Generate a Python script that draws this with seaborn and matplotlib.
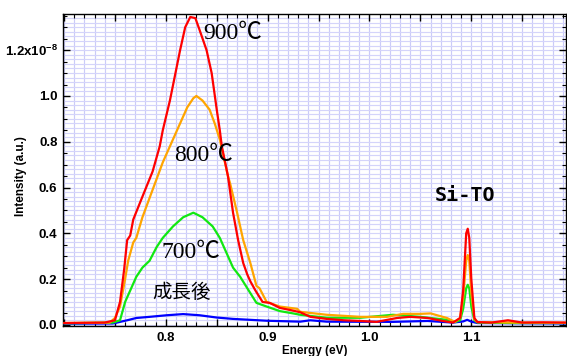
import numpy as np
import pandas as pd
import matplotlib
matplotlib.use("Agg")
import matplotlib.pyplot as plt
from matplotlib.ticker import MultipleLocator, FixedLocator, FuncFormatter
import seaborn as sns

# ---- data (intensity in units of 1e-8 a.u.) ----
e_red = [0.700, 0.720, 0.740, 0.745, 0.750, 0.755, 0.759, 0.762, 0.765, 0.768, 0.777, 0.787,
         0.794, 0.797, 0.804, 0.814, 0.819, 0.824, 0.829, 0.833, 0.840, 0.845, 0.850, 0.853,
         0.855, 0.861, 0.866, 0.871, 0.876, 0.880, 0.883, 0.888, 0.895, 0.902, 0.912, 0.922,
         0.932, 0.942, 0.958, 0.975, 0.991, 1.007, 1.027, 1.040, 1.057, 1.072, 1.082, 1.089,
         1.092, 1.095, 1.0965, 1.098, 1.100, 1.103, 1.106, 1.120, 1.136, 1.150, 1.170, 1.193]
i_red = [0.008, 0.009, 0.010, 0.015, 0.020, 0.100, 0.240, 0.370, 0.390, 0.460, 0.560, 0.670,
         0.780, 0.850, 0.980, 1.200, 1.300, 1.345, 1.340, 1.290, 1.200, 1.100, 0.940, 0.850,
         0.780, 0.650, 0.490, 0.370, 0.270, 0.220, 0.190, 0.150, 0.100, 0.096, 0.074, 0.065,
         0.055, 0.035, 0.026, 0.020, 0.017, 0.013, 0.030, 0.035, 0.030, 0.017, 0.010, 0.030,
         0.150, 0.400, 0.420, 0.380, 0.200, 0.030, 0.012, 0.010, 0.020, 0.010, 0.011, 0.010]

e_orange = [0.700, 0.720, 0.745, 0.750, 0.755, 0.760, 0.763, 0.768, 0.771, 0.777, 0.787, 0.797,
            0.807, 0.814, 0.821, 0.827, 0.830, 0.836, 0.843, 0.848, 0.853, 0.858, 0.861, 0.863,
            0.870, 0.876, 0.883, 0.889, 0.892, 0.899, 0.912, 0.929, 0.932, 0.958, 0.991, 1.017,
            1.033, 1.050, 1.060, 1.076, 1.084, 1.089, 1.092, 1.095, 1.0965, 1.098, 1.100, 1.103,
            1.106, 1.140, 1.193]
i_orange = [0.008, 0.009, 0.010, 0.030, 0.080, 0.200, 0.280, 0.360, 0.380, 0.470, 0.590, 0.710,
            0.810, 0.880, 0.950, 0.990, 1.000, 0.980, 0.940, 0.880, 0.810, 0.710, 0.650, 0.620,
            0.490, 0.370, 0.270, 0.170, 0.160, 0.100, 0.080, 0.070, 0.057, 0.044, 0.035, 0.035,
            0.048, 0.048, 0.050, 0.030, 0.013, 0.030, 0.120, 0.280, 0.305, 0.280, 0.140, 0.025,
            0.012, 0.010, 0.009]

e_green = [0.700, 0.720, 0.748, 0.755, 0.760, 0.765, 0.771, 0.777, 0.784, 0.791, 0.797, 0.807,
           0.817, 0.827, 0.836, 0.846, 0.853, 0.860, 0.866, 0.873, 0.880, 0.889, 0.899, 0.912,
           0.925, 0.932, 0.958, 0.991, 1.023, 1.050, 1.076, 1.084, 1.089, 1.092, 1.095, 1.0965,
           1.098, 1.100, 1.103, 1.106, 1.140, 1.193]
i_green = [0.007, 0.008, 0.010, 0.020, 0.100, 0.150, 0.210, 0.250, 0.280, 0.340, 0.380, 0.430,
           0.470, 0.490, 0.470, 0.430, 0.380, 0.310, 0.250, 0.210, 0.160, 0.096, 0.080, 0.060,
           0.050, 0.044, 0.031, 0.031, 0.044, 0.035, 0.022, 0.012, 0.020, 0.070, 0.160, 0.175,
           0.160, 0.080, 0.020, 0.010, 0.008, 0.008]

e_blue = [0.700, 0.748, 0.752, 0.762, 0.771, 0.784, 0.801, 0.817, 0.833, 0.850, 0.866, 0.899,
          0.932, 0.942, 0.958, 1.023, 1.057, 1.082, 1.092, 1.096, 1.100, 1.106, 1.193]
i_blue = [0.005, 0.006, 0.010, 0.020, 0.030, 0.035, 0.042, 0.047, 0.042, 0.032, 0.026, 0.018,
          0.014, 0.020, 0.014, 0.013, 0.017, 0.010, 0.015, 0.022, 0.014, 0.008, 0.006]

series_names = ["成長後", "700℃", "800℃", "900℃"]
series_colors = ["#0000ff", "#11e811", "#ffa500", "#ff0000"]
y_ticks = [0.0, 0.2, 0.4, 0.6, 0.8, 1.0, 1.2]
x_ticks = [0.8, 0.9, 1.0, 1.1]

frames = []
for name, e, i in zip(series_names, [e_blue, e_green, e_orange, e_red],
                      [i_blue, i_green, i_orange, i_red]):
    frames.append(pd.DataFrame({"Energy": e, "Intensity": i, "series": name}))
df = pd.concat(frames, ignore_index=True)

sns.set_style("ticks")
plt.rcParams["font.family"] = ["Liberation Sans", "Noto Sans CJK JP", "DejaVu Sans"]
plt.rcParams["text.color"] = "black"
plt.rcParams["axes.labelcolor"] = "black"
plt.rcParams["xtick.color"] = "black"
plt.rcParams["ytick.color"] = "black"
plt.rcParams["xtick.labelcolor"] = "black"
plt.rcParams["ytick.labelcolor"] = "black"
plt.rcParams["mathtext.fontset"] = "custom"
plt.rcParams["mathtext.rm"] = "Liberation Sans:bold"
plt.rcParams["mathtext.bf"] = "Liberation Sans:bold"
plt.rcParams["mathtext.it"] = "Liberation Sans:bold"

fig = plt.figure(figsize=(5.67, 3.56), dpi=100)
ax = fig.add_axes([63 / 567, 30 / 356, 503 / 567, 312 / 356])

# grid
for gx in np.arange(0.70, 1.195, 0.01):
    ax.axvline(gx, color="#cbcbf8", lw=0.85, zorder=0)
for gy in np.arange(0.0, 1.36, 0.02):
    ax.axhline(gy, color="#d4d4fa", lw=0.85, zorder=0)

sns.lineplot(data=df, x="Energy", y="Intensity", hue="series", hue_order=series_names,
             palette=series_colors, sort=False, linewidth=1.6, legend=False, ax=ax, zorder=3)

ax.set_xlim(0.699, 1.193)
ax.set_ylim(-0.005, 1.358)

ax.xaxis.set_major_locator(FixedLocator(list(np.round(np.arange(0.70, 1.20, 0.05), 2))))
ax.xaxis.set_minor_locator(MultipleLocator(0.01))
ax.xaxis.set_major_formatter(FuncFormatter(
    lambda v, p: (f"{v:.1f}" if any(abs(v - t) < 1e-6 for t in x_ticks) else "")))
ax.yaxis.set_major_locator(FixedLocator(y_ticks))
ax.yaxis.set_minor_locator(MultipleLocator(0.05))

def yfmt(v, p):
    if abs(v - 1.2) < 1e-6:
        return r"1.2x10$^{-8}$"
    return f"{v:.1f}"
ax.yaxis.set_major_formatter(FuncFormatter(yfmt))

ax.tick_params(which="both", direction="in", top=True, right=True, color="black",
               labelcolor="black", labelsize=9.5, pad=4)
ax.tick_params(which="major", length=5, width=1)
ax.tick_params(which="minor", length=3, width=0.8)
for lab in ax.get_xticklabels() + ax.get_yticklabels():
    lab.set_fontweight("bold")

for s in ax.spines.values():
    s.set_color("black")
    s.set_linewidth(1.0)

ax.set_xlabel("Energy (eV)", fontsize=8.5, fontweight="bold", labelpad=1, color="black")
ax.set_ylabel("Intensity (a.u.)", fontsize=8.5, fontweight="bold", color="black")
ax.yaxis.set_label_coords(-0.0716, 0.48)

serif = ["Liberation Serif", "Noto Sans CJK JP", "DejaVu Sans"]
ax.text(0.8659, 1.271, "900℃", fontsize=17, family=serif, color="black",
        ha="center", va="center", zorder=5)
ax.text(0.8374, 0.738, "800℃", fontsize=17, family=serif, color="black",
        ha="center", va="center", zorder=5)
ax.text(0.8246, 0.314, "700℃", fontsize=17, family=serif, color="black",
        ha="center", va="center", zorder=5)
ax.text(0.8157, 0.140, "成長後", fontsize=14, family=["Noto Sans CJK JP"], color="black",
        ha="center", va="center", zorder=5)
ax.text(1.094, 0.563, "Si-TO", fontsize=14.5, family=["DejaVu Sans Mono"], fontweight="bold",
        color="black", ha="center", va="center", zorder=5)

fig.savefig("out.png", dpi=100)
